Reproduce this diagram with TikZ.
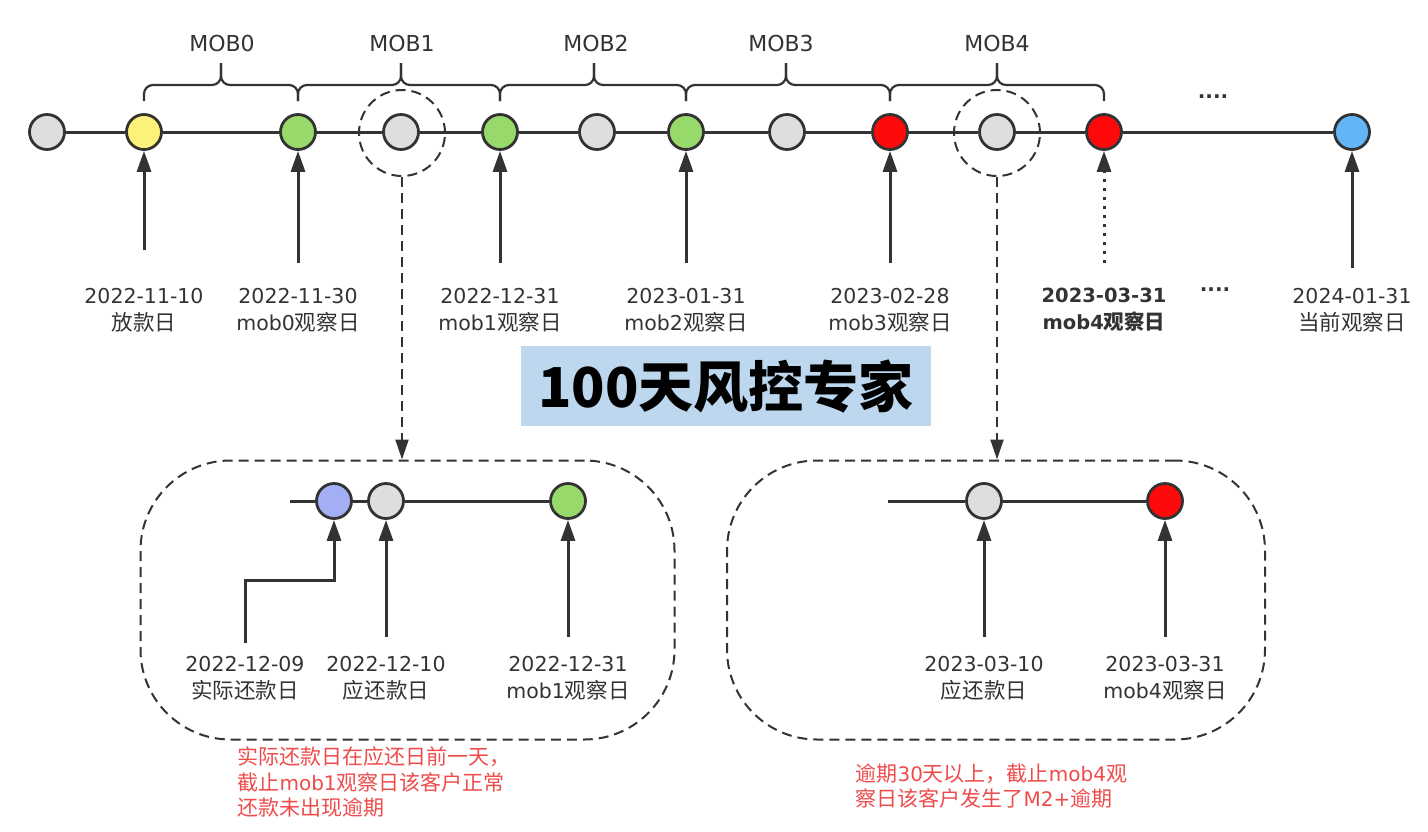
\documentclass[tikz,border=0pt]{standalone}
\usepackage{fontspec}
\setmainfont{DejaVu Sans}
\newfontfamily\cjk{Noto Sans CJK SC}[Scale=1.05]
\newfontfamily\cjkwm{Noto Sans CJK SC}
\newcommand\zh[1]{{\cjk #1}}
\usetikzlibrary{arrows.meta,calc}
\definecolor{ink}{HTML}{333333}
\definecolor{cgray}{HTML}{DEDEDE}
\definecolor{cyellow}{HTML}{FFF27A}
\definecolor{cgreen}{HTML}{97D96A}
\definecolor{cred}{HTML}{FF0A0A}
\definecolor{cblue}{HTML}{64B5F6}
\definecolor{cpurple}{HTML}{A3AEF5}
\definecolor{notered}{HTML}{EE4B4B}
\definecolor{wmblue}{HTML}{BDD7EE}
\begin{document}
\begin{tikzpicture}[x=1pt,y=-1pt,
  dot/.style={circle, draw=ink, line width=2.8pt, minimum size=35pt, inner sep=0pt},
  tl/.style={draw=ink, line width=3pt},
  arr/.style={draw=ink, line width=3pt, -{Triangle[length=21pt,width=14pt]}},
  dotarr/.style={draw=ink, line width=3pt, dash pattern=on 3pt off 6pt, -{Triangle[length=21pt,width=14pt]}},
  darr/.style={draw=ink, line width=2pt, dash pattern=on 10pt off 6pt, -{Triangle[length=20pt,width=13pt]}},
  dcirc/.style={circle, draw=ink, line width=2pt, dash pattern=on 10pt off 6pt, minimum size=86pt, inner sep=0pt},
  dbox/.style={draw=ink, line width=2pt, dash pattern=on 10pt off 6pt, rounded corners=90pt, inner sep=0pt},
  lbl/.style={align=center, text=ink, font=\fontsize{20.5}{27}\selectfont},
  moblbl/.style={text=ink, font=\fontsize{22}{25}\selectfont},
  brc/.style={draw=ink, line width=2.2pt, rounded corners=9pt},
  note/.style={align=left, text=notered, anchor=west, font=\fontsize{20}{25.5}\selectfont}
]
\useasboundingbox (0,0) rectangle (1428,831);

% ---------- main timeline ----------
\node[dcirc] (dc1) at (402,133) {};
\node[dcirc] (dc2) at (997,133) {};

\node[dot, fill=cgray]   (n1)  at (47,132)   {};
\node[dot, fill=cyellow] (n2)  at (144,132)  {};
\node[dot, fill=cgreen]  (n3)  at (298,132)  {};
\node[dot, fill=cgray]   (n4)  at (401,132)  {};
\node[dot, fill=cgreen]  (n5)  at (500,132)  {};
\node[dot, fill=cgray]   (n6)  at (597,132)  {};
\node[dot, fill=cgreen]  (n7)  at (686,132)  {};
\node[dot, fill=cgray]   (n8)  at (787,132)  {};
\node[dot, fill=cred]    (n9)  at (890,132)  {};
\node[dot, fill=cgray]   (n10) at (997,132)  {};
\node[dot, fill=cred]    (n11) at (1104,132) {};
\node[dot, fill=cblue]   (n12) at (1352,132) {};

\draw[tl] (n1)--(n2)--(n3)--(n4)--(n5)--(n6)--(n7)--(n8)--(n9)--(n10)--(n11)--(n12);

% braces
\foreach \xa/\xt/\xb in {144/221/298, 298/401/500, 500/594/686, 686/786/890, 890/997/1104}{
  \draw[brc] (\xa,101) -- (\xa,85) -- (\xt,85) -- (\xt,63);
  \draw[brc] (\xt,63) -- (\xt,85) -- (\xb,85) -- (\xb,101);
}
\node[moblbl] (m0) at (222,43) {MOB0};
\node[moblbl] (m1) at (402,43) {MOB1};
\node[moblbl] (m2) at (596,43) {MOB2};
\node[moblbl] (m3) at (781,43) {MOB3};
\node[moblbl] (m4) at (997,43) {MOB4};
\node[text=ink, font=\fontsize{20}{24}\selectfont\bfseries] (dots1) at (1213,97) {....};

% arrows up
\coordinate (a2) at (144,250);
\coordinate (a3) at (298,263);
\coordinate (a5) at (500,263);
\coordinate (a7) at (686,263);
\coordinate (a9) at (890,263);
\coordinate (a11) at (1104,263);
\coordinate (a12) at (1352,268);
\draw[arr] (a2) -- (n2);
\draw[arr] (a3) -- (n3);
\draw[arr] (a5) -- (n5);
\draw[arr] (a7) -- (n7);
\draw[arr] (a9) -- (n9);
\draw[dotarr] (a11) -- (n11);
\draw[arr] (a12) -- (n12);

% labels
\node[lbl] (l2)  at (144,310)  {2022-11-10\\\zh{放款日}};
\node[lbl] (l3)  at (298,310)  {2022-11-30\\mob0\zh{观察日}};
\node[lbl] (l5)  at (500,310)  {2022-12-31\\mob1\zh{观察日}};
\node[lbl] (l7)  at (686,310)  {2023-01-31\\mob2\zh{观察日}};
\node[lbl] (l9)  at (890,310)  {2023-02-28\\mob3\zh{观察日}};
\node[lbl, font=\fontsize{19.5}{27}\selectfont\bfseries] (l11) at (1104,310) {2023-03-31\\mob4\zh{观察日}};
\node[text=ink, font=\fontsize{20}{24}\selectfont\bfseries] (dots2) at (1215,290) {....};
\node[lbl] (l12) at (1352,310) {2024-01-31\\\zh{当前观察日}};

% ---------- watermark ----------
\node[fill=wmblue, minimum width=410pt, minimum height=80pt, inner sep=0pt] (wm) at (726,386) {};
\node[text=black, font=\fontsize{55}{60}\cjkwm\bfseries] (wmt) at (wm.center) {100天风控专家};

% ---------- detail boxes ----------
\node[dbox, minimum width=534pt, minimum height=279pt] (box1) at (407.5,600) {};
\node[dbox, minimum width=538pt, minimum height=279pt] (box2) at (996,600) {};

\draw[darr] (dc1.south) -- (dc1.south |- box1.north);
\draw[darr] (dc2.south) -- (dc2.south |- box2.north);

% left box
\coordinate (s1) at (290,501);
\node[dot, fill=cpurple] (b1) at (334,501) {};
\node[dot, fill=cgray]   (b2) at (386,501) {};
\node[dot, fill=cgreen]  (b3) at (568,501) {};
\draw[tl] (s1) -- (b1) -- (b2) -- (b3);
\coordinate (p1) at (245,643);
\coordinate (p2) at (386,637);
\coordinate (p3) at (568,637);
\draw[arr] (p1) |- (334,580) -- (b1);
\draw[arr] (p2) -- (b2);
\draw[arr] (p3) -- (b3);
\node[lbl] (q1) at (245,678) {2022-12-09\\\zh{实际还款日}};
\node[lbl] (q2) at (386,678) {2022-12-10\\\zh{应还款日}};
\node[lbl] (q3) at (568,678) {2022-12-31\\mob1\zh{观察日}};

% right box
\coordinate (s2) at (888,501);
\node[dot, fill=cgray] (r1) at (984,501) {};
\node[dot, fill=cred]  (r2) at (1165,501) {};
\draw[tl] (s2) -- (r1) -- (r2);
\coordinate (u1) at (984,637);
\coordinate (u2) at (1165,637);
\draw[arr] (u1) -- (r1);
\draw[arr] (u2) -- (r2);
\node[lbl] (v1) at (984,678) {2023-03-10\\\zh{应还款日}};
\node[lbl] (v2) at (1165,678) {2023-03-31\\mob4\zh{观察日}};

% ---------- notes ----------
\node[note] (t1) at (234,782) {\zh{实际还款日在应还日前一天，}\\\zh{截止}mob1\zh{观察日该客户正常}\\\zh{还款未出现逾期}};
\node[note] (t2) at (852,786) {\zh{逾期}30\zh{天以上，截止}mob4\zh{观}\\\zh{察日该客户发生了}M2+\zh{逾期}};
\end{tikzpicture}
\end{document}
